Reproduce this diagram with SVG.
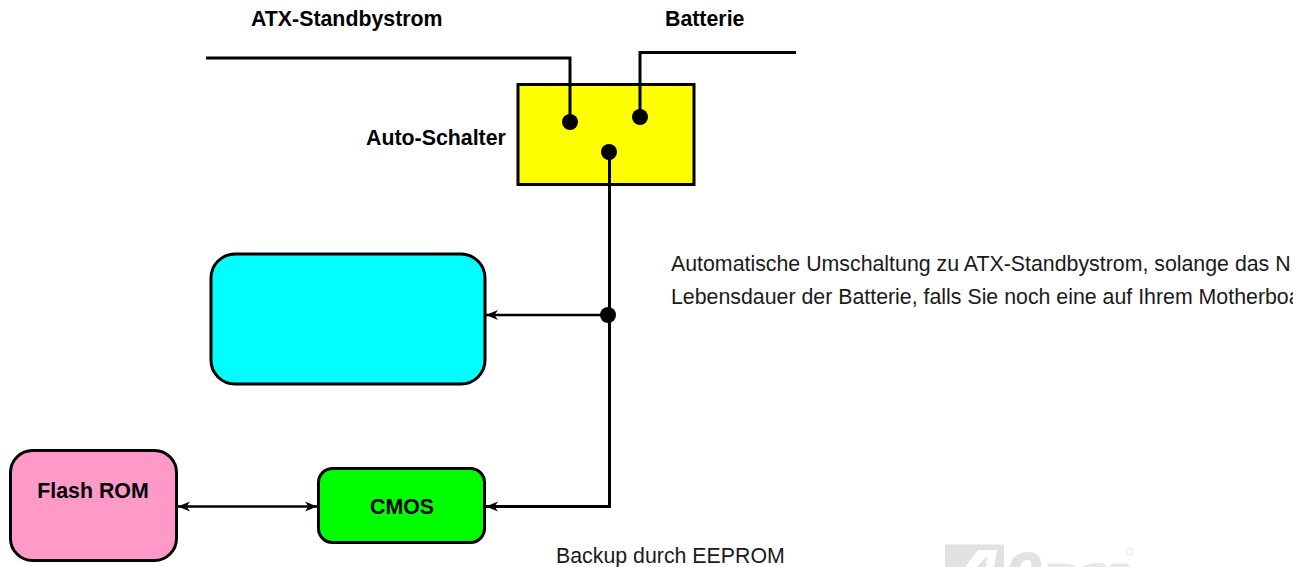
<svg xmlns="http://www.w3.org/2000/svg" width="1293" height="567" viewBox="0 0 1293 567">
<style>
text{font-family:"Liberation Sans",Arial,sans-serif;fill:#000;font-size:21.33px}
.b{font-weight:bold}
.r{fill:#1a1a1a}
.box{stroke:#000;stroke-width:3}
.w{fill:none;stroke:#000;stroke-width:3}
.a{fill:none;stroke:#000;stroke-width:2.5}
.d{fill:#000}
</style>
<defs>
<marker id="ah" markerUnits="userSpaceOnUse" markerWidth="14" markerHeight="12" refX="13" refY="6" orient="auto-start-reverse"><path d="M1 1L13 6L1 11L4.500 6Z" fill="#000"/></marker>
</defs>
<g id="watermark">
<path d="M945 544.500H1004V567H945Z" fill="#e2e2e2"/>
<path d="M965 567L978 550H997L994 567H986L987 556L977 567Z" fill="#fff"/>
<path d="M1010 567C1011 557 1018 552 1028 552C1037 552 1042 557 1041 567H1031C1032 562 1031 560 1028 560C1024 560 1021 562 1020 567Z" fill="#e2e2e2"/>
<path d="M1047 567L1048 563.500H1062C1070 563.500 1074 565 1075 567ZM1082 567C1085 564.500 1092 563 1098 563C1103 563 1106 565 1107 567ZM1110 567L1111 563.500H1125C1128 563.500 1130 565 1130 567Z" fill="#e8e8e8"/>
<circle cx="1129.500" cy="551.500" r="3.500" fill="none" stroke="#e6e6e6" stroke-width="1"/>
</g>
<g id="connectors">
<path class="w" d="M206 58H570V122"/>
<path class="w" d="M796 52.500H640V117"/>
<path class="w" d="M609.500 152V506.500H486" marker-end="url(#ah)"/>
<path class="a" d="M608 315H486" marker-end="url(#ah)"/>
<path class="a" d="M178 506.500H317" marker-start="url(#ah)" marker-end="url(#ah)"/>
</g>
<g id="auto-schalter">
<rect class="box" x="518" y="84.500" width="176" height="100" fill="#ff0"/>
<path class="w" d="M570 84V122M640 84V117M609.500 152V185"/>
<circle class="d" cx="570" cy="122" r="8"/>
<circle class="d" cx="640" cy="117" r="8"/>
<circle class="d" cx="609" cy="152" r="8"/>
<text class="b" x="366" y="145">Auto-Schalter</text>
</g>
<g id="junction"><circle class="d" cx="608" cy="315" r="8"/></g>
<g id="cyan-box"><rect class="box" x="211" y="254" width="274" height="130" rx="24" fill="#0ff"/></g>
<g id="flash-rom">
<rect class="box" x="10.500" y="450.500" width="166" height="110" rx="22" fill="#ff99c8"/>
<text class="b" x="93" y="498" text-anchor="middle">Flash ROM</text>
</g>
<g id="cmos">
<rect class="box" x="318.500" y="468.500" width="166" height="74" rx="14" fill="#0f0"/>
<text class="b" x="402" y="514" text-anchor="middle">CMOS</text>
</g>
<g id="labels">
<text class="b" x="251" y="26">ATX-Standbystrom</text>
<text class="b" x="665" y="26">Batterie</text>
<text class="r" x="671" y="271">Automatische Umschaltung zu ATX-Standbystrom, solange das N</text>
<text class="r" x="671" y="304">Lebensdauer der Batterie, falls Sie noch eine auf Ihrem Motherboa</text>
<text class="r" x="556" y="563">Backup durch EEPROM</text>
</g>
</svg>
